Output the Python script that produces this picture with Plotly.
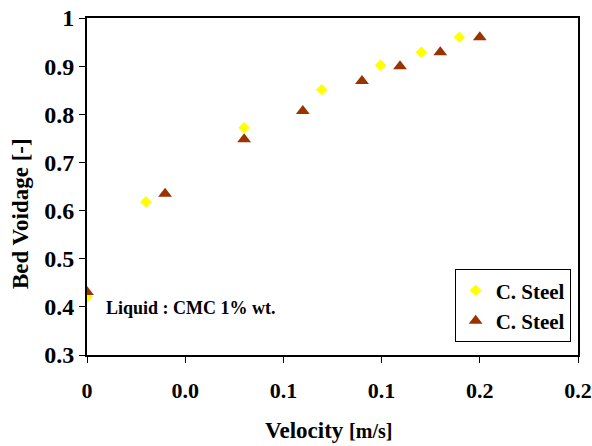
import plotly.graph_objects as go

# Data
steel_a_velocity = [0.0, 0.024, 0.064, 0.0956, 0.1196, 0.1362, 0.1517]
steel_a_voidage = [0.42, 0.618, 0.772, 0.851, 0.902, 0.929, 0.96]
steel_b_velocity = [0.0, 0.0318, 0.064, 0.0879, 0.112, 0.1275, 0.1439, 0.160]
steel_b_voidage = [0.431, 0.635, 0.748, 0.807, 0.869, 0.90, 0.929, 0.96]

series_names = ["C. Steel", "C. Steel"]
x_tickvals = [0.0, 0.04, 0.08, 0.12, 0.16, 0.20]
x_ticktext = ["0", "0.0", "0.1", "0.1", "0.2", "0.2"]
y_tickvals = [0.3, 0.4, 0.5, 0.6, 0.7, 0.8, 0.9, 1.0]
y_ticktext = ["0.3", "0.4", "0.5", "0.6", "0.7", "0.8", "0.9", "1"]

FONT = "Liberation Serif"

fig = go.Figure()
fig.add_trace(go.Scatter(
    x=steel_a_velocity, y=steel_a_voidage, mode="markers", name=series_names[0],
    marker=dict(symbol="diamond", size=9, color="#FFFF00", line=dict(width=0)),
))
fig.add_trace(go.Scatter(
    x=steel_b_velocity, y=steel_b_voidage, mode="markers", name=series_names[1],
    marker=dict(symbol="triangle-up", size=12, color="#993300", line=dict(width=0)),
))

axis_common = dict(
    showline=True, linecolor="black", linewidth=2, mirror=True,
    ticks="outside", ticklen=6, tickwidth=1, tickcolor="black",
    showgrid=False, zeroline=False, automargin=False,
)

fig.update_xaxes(range=[0, 0.2], tickmode="array", tickvals=x_tickvals,
                 ticktext=x_ticktext, ticklabelstandoff=9,
                 tickfont=dict(family=FONT, size=22, color="black", weight="bold"),
                 **axis_common)
fig.update_yaxes(range=[0.3, 1.0], tickmode="array", tickvals=y_tickvals,
                 ticktext=y_ticktext, ticklabelstandoff=0,
                 tickfont=dict(family=FONT, size=24, color="black", weight="bold"),
                 **axis_common)

fig.add_annotation(
    x=0.0069, y=0.3976, xref="x", yref="y", xanchor="left", yanchor="middle",
    text="Liquid : CMC 1% wt.", showarrow=False,
    font=dict(family=FONT, size=18, color="black", weight="bold"),
)
fig.add_annotation(
    x=-0.1365, y=0.421, xref="paper", yref="paper", xanchor="center", yanchor="middle",
    text="Bed Voidage [-]", textangle=-90, showarrow=False,
    font=dict(family=FONT, size=23, color="black", weight="bold"),
)
fig.add_annotation(
    x=0.491, y=-0.2226, xref="paper", yref="paper", xanchor="center", yanchor="middle",
    text="Velocity <span style='font-size:20px'>[m/s]</span>", showarrow=False,
    font=dict(family=FONT, size=23, color="black", weight="bold"),
)

fig.update_layout(
    width=592, height=446,
    margin=dict(l=87, r=14, t=18, b=91),
    paper_bgcolor="white", plot_bgcolor="white",
    font=dict(family=FONT, color="black"),
    showlegend=True,
    legend=dict(
        x=0.985, y=0.038, xanchor="right", yanchor="bottom",
        bgcolor="white", bordercolor="black", borderwidth=1,
        font=dict(family=FONT, size=21, color="black", weight="bold"),
        itemwidth=30, tracegroupgap=0,
    ),
)

fig.write_html(
    "out.html",
    config={"displayModeBar": False},
    post_script="document.body.style.margin='0';document.body.style.padding='0';document.body.style.overflow='hidden';",
)
